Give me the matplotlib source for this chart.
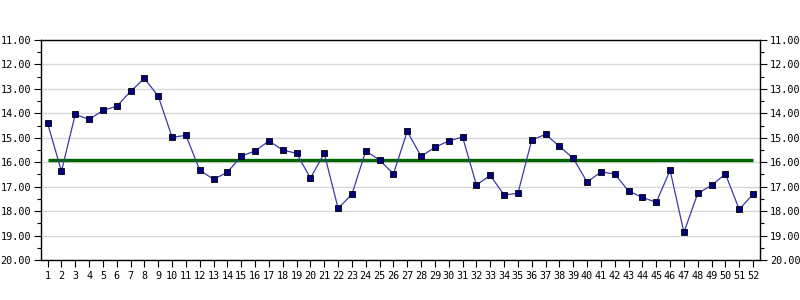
import matplotlib
matplotlib.use("Agg")
import matplotlib.pyplot as plt
from matplotlib.ticker import MultipleLocator, FormatStrFormatter

categories = list(range(1, 53))
values = [14.41, 16.37, 14.04, 14.25, 13.88, 13.71, 13.10, 12.57, 13.30, 14.98,
          14.90, 16.33, 16.70, 16.41, 15.75, 15.54, 15.13, 15.50, 15.64, 16.65,
          15.64, 17.89, 17.31, 15.54, 15.91, 16.48, 14.74, 15.76, 15.39, 15.13,
          14.97, 16.93, 16.54, 17.34, 17.27, 15.09, 14.86, 15.35, 15.84, 16.81,
          16.40, 16.48, 17.18, 17.44, 17.64, 16.33, 18.87, 17.27, 16.95, 16.48,
          17.93, 17.31]
reference_level = 15.9

plt.rcParams['font.family'] = ['DejaVu Sans Mono']

fig = plt.figure(figsize=(8, 3), dpi=100)
ax = fig.add_axes([40.7/800, 1-260/300, (760-40.7)/800, 220/300])

ax.hlines(reference_level, categories[0], categories[-1], color='#006400', linewidth=2.4, zorder=3)
ax.plot(categories, values, color='#3a3aaa', linewidth=0.9, marker='s', markersize=4.5,
        markerfacecolor='#000080', markeredgecolor='black', markeredgewidth=0.6, zorder=4)

ax.set_xlim(0.5, 52.5)
ax.set_ylim(20, 11)
ax.set_xticks(categories)
ax.set_xticklabels([str(c) for c in categories])
ax.yaxis.set_major_locator(MultipleLocator(1))
ax.yaxis.set_minor_locator(MultipleLocator(0.5))
ax.yaxis.set_major_formatter(FormatStrFormatter('%.2f'))
ax.tick_params(axis='y', which='major', length=5, width=0.8, labelsize=7.3, left=True, right=True, labelleft=True, labelright=True, pad=2)
ax.tick_params(axis='y', which='minor', length=3, width=0.8, left=True, right=True)
ax.tick_params(axis='x', which='major', length=5, width=0.8, labelsize=7.3, pad=3)
ax.grid(axis='y', which='major', color='#d8d8d8', linewidth=1.0)
ax.set_axisbelow(True)
for s in ax.spines.values():
    s.set_linewidth(1.0)
    s.set_color('black')

fig.savefig('out.png', dpi=100)
